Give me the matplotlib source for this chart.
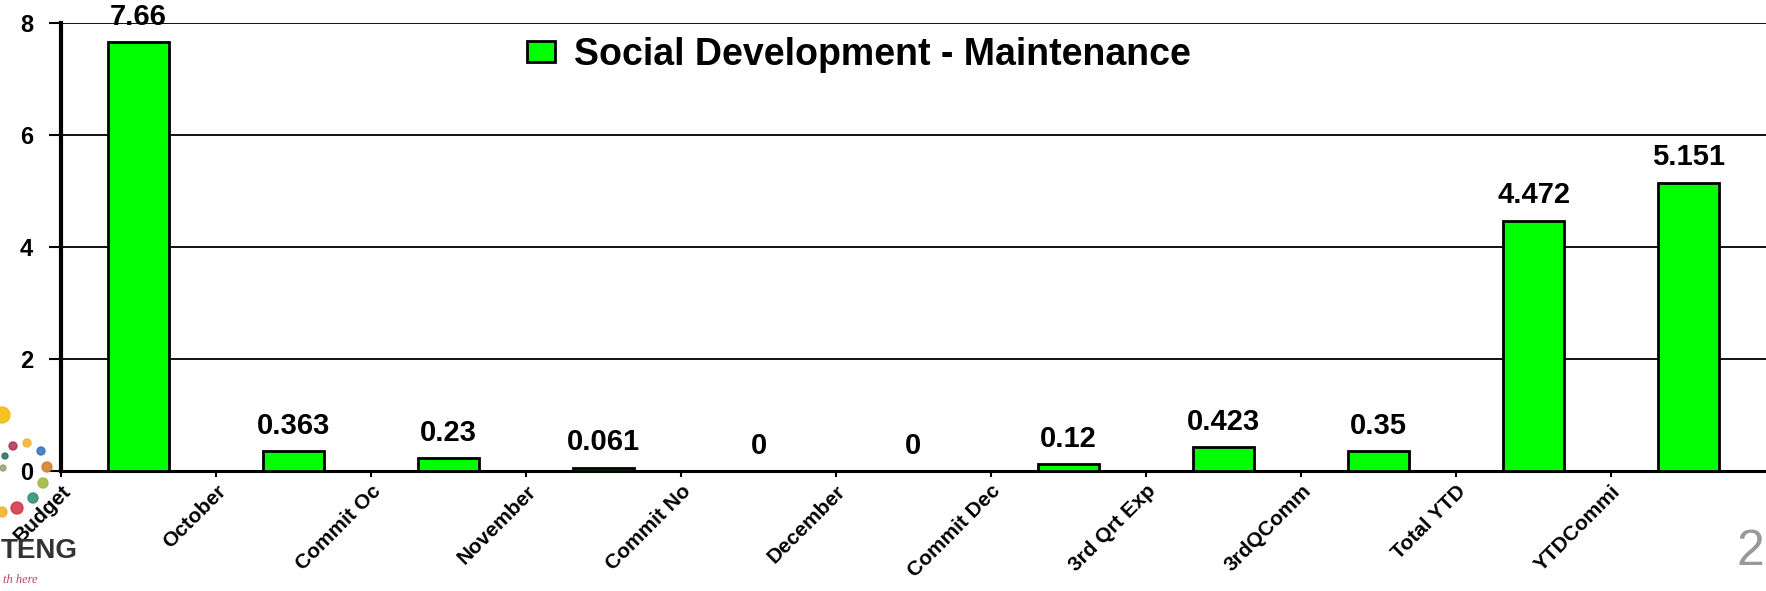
import matplotlib
matplotlib.use("Agg")
import matplotlib.pyplot as plt
import numpy as np
from matplotlib.patches import Ellipse

categories = ["Budget", "October", "Commit Oc", "November", "Commit No", "December",
              "Commit Dec", "3rd Qrt Exp", "3rdQComm", "Total YTD", "YTDCommi"]
values = [7.66, 0.363, 0.23, 0.061, 0, 0, 0.12, 0.423, 0.35, 4.472, 5.151]
series_name = "Social Development - Maintenance"
yticks = [0, 2, 4, 6, 8]

FONT = ["Liberation Sans", "DejaVu Sans"]
W, H = 1766, 591
fig = plt.figure(figsize=(W / 100, H / 100), dpi=100)
ax_left, ax_top, ax_bottom = 61, 23, 471
ax = fig.add_axes([ax_left / W, (H - ax_bottom) / H, (W - ax_left) / W, (ax_bottom - ax_top) / H])

x = np.arange(len(values)) + 0.5
ax.bar(x, values, width=0.39, color="#00FF00", edgecolor="black", linewidth=2,
       label=series_name, zorder=3)

for xi, v in zip(x, values):
    ax.annotate(f"{v:g}", (xi, v), xytext=(0, 8), textcoords="offset points",
                ha="center", va="bottom", fontsize=21, fontweight="bold",
                family=FONT, zorder=4)

ax.set_xlim(0, len(values))
ax.set_ylim(0, 8)
ax.set_yticks(yticks)
ax.set_yticklabels([str(t) for t in yticks], fontsize=17, fontweight="bold", family=FONT)
ax.set_xticks(np.arange(len(values)))
ax.set_xticklabels(categories, rotation=45, ha="right", va="top", rotation_mode="anchor",
                   fontsize=15, fontweight="bold", family=FONT)
ax.tick_params(axis="y", length=9, width=1.5, pad=11, direction="out")
ax.tick_params(axis="x", length=4.5, width=1.5, pad=3, direction="out")

ax.yaxis.grid(True, color="#111111", linewidth=1.4, zorder=0)
ax.set_axisbelow(True)
for s in ["top", "right"]:
    ax.spines[s].set_visible(False)
ax.spines["left"].set_linewidth(3)
ax.spines["bottom"].set_linewidth(2.2)

ax.legend(loc="center left",
          bbox_to_anchor=((527 - ax_left) / (W - ax_left), (ax_bottom - 55) / (ax_bottom - ax_top)),
          frameon=False, prop={"family": FONT, "weight": "bold", "size": 27},
          handlelength=0.75, handleheight=0.5, handletextpad=0.5, borderpad=0, borderaxespad=0)

# decorative logo remnants and page number
dots = [(2, 415, 8, "#F5B800"), (13, 446, 4, "#B03050"), (27, 443, 4, "#F0B030"),
        (41, 451, 4, "#3070C0"), (5, 456, 3, "#2A6A60"), (47, 467, 5, "#D07A20"),
        (3, 468, 3, "#90A070"), (43, 483, 5, "#9AB830"), (33, 498, 5, "#2A8A70"),
        (17, 508, 6, "#D03040"), (2, 512, 5, "#F0B020")]
for (cx, cy, r, c) in dots:
    fig.patches.append(Ellipse((cx / W, 1 - cy / H), 2 * r / W, 2 * r / H,
                               transform=fig.transFigure, color=c, alpha=0.85, zorder=0))
fig.text(1 / W, 1 - 551 / H, "TENG", ha="left", va="center", fontsize=20, fontweight="bold",
         color="#333333", family=FONT)
fig.text(3 / W, 1 - 580 / H, "th here", ha="left", va="center", fontsize=9, style="italic",
         color="#C04070", family=["Liberation Serif", "DejaVu Serif"])
fig.text(1764 / W, 1 - 552 / H, "2", ha="right", va="center", fontsize=36,
         color="#999999", family=FONT)

fig.savefig("out.png", dpi=100)
